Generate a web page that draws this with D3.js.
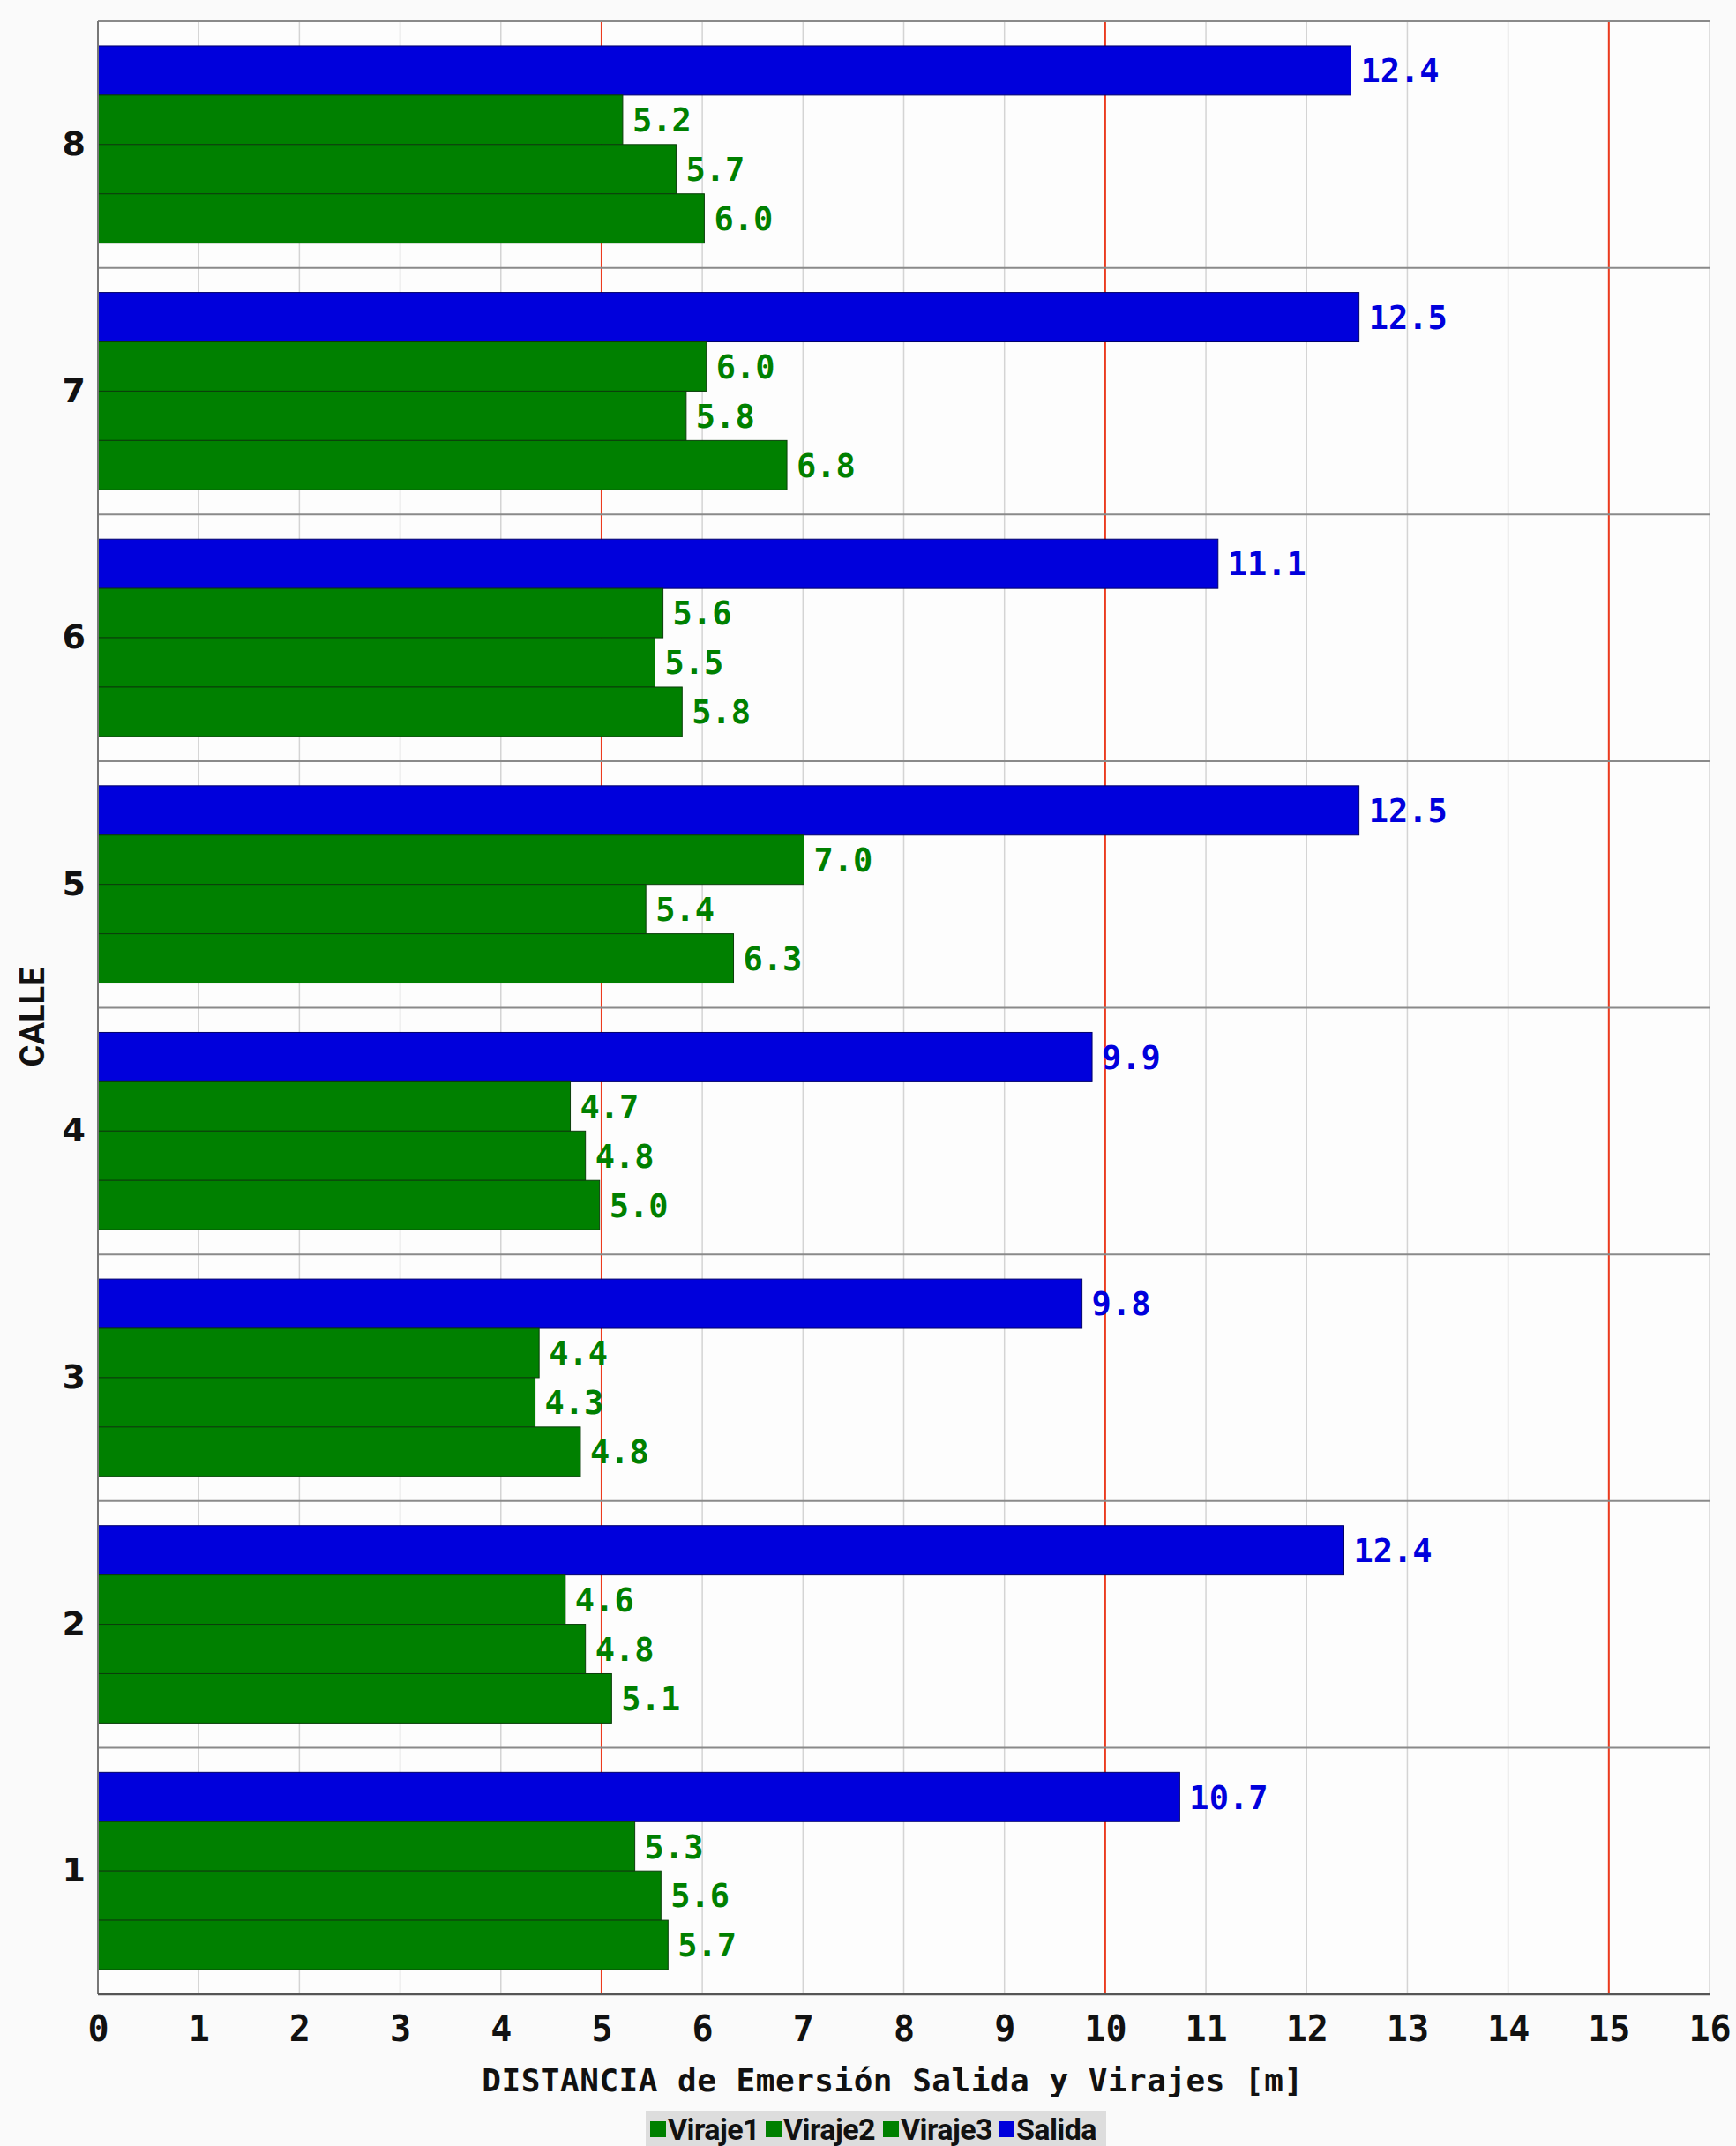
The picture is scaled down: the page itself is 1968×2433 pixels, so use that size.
<!DOCTYPE html>
<html>
<head>
<meta charset="utf-8">
<script src="https://cdn.jsdelivr.net/npm/d3@7"></script>
<style>
  body { margin: 0; background: #fafafa; }
  svg { display: block; }
</style>
</head>
<body>
<div id="chart"></div>
<script>
// data (one row per calle, top to bottom)
const calles = ["8", "7", "6", "5", "4", "3", "2", "1"];
const series = ["Salida", "Viraje1", "Viraje2", "Viraje3"];
const salida  = [12.44, 12.52, 11.12, 12.52, 9.87, 9.77, 12.37, 10.74];
const viraje1 = [5.21, 6.04, 5.61, 7.01, 4.69, 4.38, 4.64, 5.33];
const viraje2 = [5.74, 5.84, 5.53, 5.44, 4.84, 4.34, 4.84, 5.59];
const viraje3 = [6.02, 6.84, 5.80, 6.31, 4.98, 4.79, 5.10, 5.66];
const xTicks = d3.range(0, 17);
const redLines = [5, 10, 15];
const legendOrder = ["Viraje1", "Viraje2", "Viraje3", "Salida"];

var width = 1968, height = 2433;
var mLeft = 111, mRight = 1938, mTop = 24, mBottom = 2261;

var colors = { Salida: "#0000dc", Viraje1: "#008000", Viraje2: "#008000", Viraje3: "#008000" };
var values = { Salida: salida, Viraje1: viraje1, Viraje2: viraje2, Viraje3: viraje3 };

var rows = calles.map((c, i) => ({
    calle: c,
    bars: series.map(s => ({ key: s, value: values[s][i] }))
}));

const svg = d3.select("#chart")
    .append("svg")
    .attr("width", width)
    .attr("height", height)

svg.append("rect")
    .attr("width", width).attr("height", height)
    .attr("fill", "#fafafa")

var x = d3.scaleLinear().domain([0, 16]).range([mLeft, mRight])
var y0 = d3.scaleBand().domain(calles).range([mTop, mBottom]).padding(0)
var y1 = d3.scaleBand().domain(series).range([0, y0.bandwidth()])
    .paddingInner(0).paddingOuter(0.5)

// plot background
svg.append("rect")
    .attr("x", mLeft).attr("y", mTop)
    .attr("width", mRight - mLeft).attr("height", mBottom - mTop)
    .attr("fill", "#fdfdfd")

// light vertical grid
svg.append("g")
    .selectAll("line")
    .data(xTicks)
    .enter()
    .append("line")
    .attr("x1", d => x(d)).attr("x2", d => x(d))
    .attr("y1", mTop).attr("y2", mBottom)
    .attr("stroke", "#d4d4d4")
    .attr("stroke-width", 1.5)

// red reference lines
svg.append("g")
    .selectAll("line")
    .data(redLines)
    .enter()
    .append("line")
    .attr("x1", d => x(d)).attr("x2", d => x(d))
    .attr("y1", mTop).attr("y2", mBottom)
    .attr("stroke", "#ec3a1e")
    .attr("stroke-width", 2)

// separators between calles
svg.append("g")
    .selectAll("line")
    .data(calles)
    .enter()
    .append("line")
    .attr("x1", mLeft).attr("x2", mRight)
    .attr("y1", d => y0(d)).attr("y2", d => y0(d))
    .attr("stroke", "#8a8a8a")
    .attr("stroke-width", 2)

// bars
var groups = svg.append("g")
    .selectAll("g")
    .data(rows)
    .enter()
    .append("g")
    .attr("transform", d => "translate(0," + y0(d.calle) + ")")

groups.selectAll("rect")
    .data(d => d.bars)
    .enter()
    .append("rect")
    .attr("x", x(0))
    .attr("y", d => y1(d.key))
    .attr("width", d => x(d.value) - x(0))
    .attr("height", y1.bandwidth())
    .attr("fill", d => colors[d.key])
    .attr("stroke", d => d.key == "Salida" ? "#00006a" : "#0b3d0b")
    .attr("stroke-width", 1)

groups.selectAll("text")
    .data(d => d.bars)
    .enter()
    .append("text")
    .attr("x", d => x(d.value) + 11)
    .attr("y", d => y1(d.key) + y1.bandwidth() / 2)
    .attr("dy", "0.36em")
    .attr("fill", d => colors[d.key])
    .style("font-family", "'DejaVu Sans Mono', monospace")
    .style("font-weight", "bold")
    .style("font-size", "37px")
    .text(d => d3.format(".1f")(d.value))

// axis lines
svg.append("line")
    .attr("x1", mLeft).attr("x2", mLeft).attr("y1", mTop).attr("y2", mBottom)
    .attr("stroke", "#777").attr("stroke-width", 2)
svg.append("line")
    .attr("x1", mLeft).attr("x2", mRight).attr("y1", mBottom).attr("y2", mBottom)
    .attr("stroke", "#555").attr("stroke-width", 2.5)

// x axis
var xAxis = svg.append("g")
    .attr("transform", "translate(0," + mBottom + ")")
    .call(d3.axisBottom(x).tickValues(xTicks).tickSize(0).tickPadding(0).tickFormat(d3.format("d")))
xAxis.select(".domain").remove()
xAxis.selectAll("text")
    .attr("y", 53)
    .attr("dy", null)
    .attr("fill", "#111")
    .style("font-family", "'DejaVu Sans Mono', monospace")
    .style("font-weight", "bold")
    .style("font-size", "40px")

// y axis
var yAxis = svg.append("g")
    .attr("transform", "translate(" + mLeft + ",0)")
    .call(d3.axisLeft(y0).tickSize(0).tickPadding(14))
yAxis.select(".domain").remove()
yAxis.selectAll("text")
    .attr("fill", "#111")
    .style("font-family", "'DejaVu Sans', sans-serif")
    .style("font-weight", "bold")
    .style("font-size", "38px")

// axis titles
svg.append("text")
    .attr("x", 1012)
    .attr("y", 2371)
    .attr("text-anchor", "middle")
    .attr("fill", "#111")
    .style("font-family", "'DejaVu Sans Mono', monospace")
    .style("font-weight", "bold")
    .style("font-size", "36px")
    .style("letter-spacing", "0.5px")
    .text("DISTANCIA de Emersión Salida y Virajes [m]")

svg.append("text")
    .attr("transform", "translate(50,1153) rotate(-90)")
    .attr("text-anchor", "middle")
    .attr("fill", "#111")
    .style("font-family", "'Liberation Sans Narrow', Roboto, sans-serif")
    .style("font-weight", "bold")
    .style("font-size", "38px")
    .text("CALLE")

// legend
var legend = svg.append("g")
legend.append("rect")
    .attr("x", 732).attr("y", 2393)
    .attr("width", 522).attr("height", 42)
    .attr("fill", "#dddddd")

var legendX = [737, 868, 1001, 1132];
var items = legend.selectAll(".item")
    .data(legendOrder)
    .enter()
    .append("g")
    .attr("class", "item")
    .attr("transform", (d, i) => "translate(" + legendX[i] + ",0)")
items.append("rect")
    .attr("x", 0).attr("y", 2405)
    .attr("width", 18).attr("height", 18)
    .attr("fill", d => colors[d])
items.append("text")
    .attr("x", 20)
    .attr("y", 2426)
    .attr("fill", "#111")
    .style("font-family", "'Liberation Sans Narrow', Roboto, sans-serif")
    .style("font-weight", "bold")
    .style("font-size", "34px")
    .style("letter-spacing", "-0.6px")
    .text(d => d)
</script>
</body>
</html>
